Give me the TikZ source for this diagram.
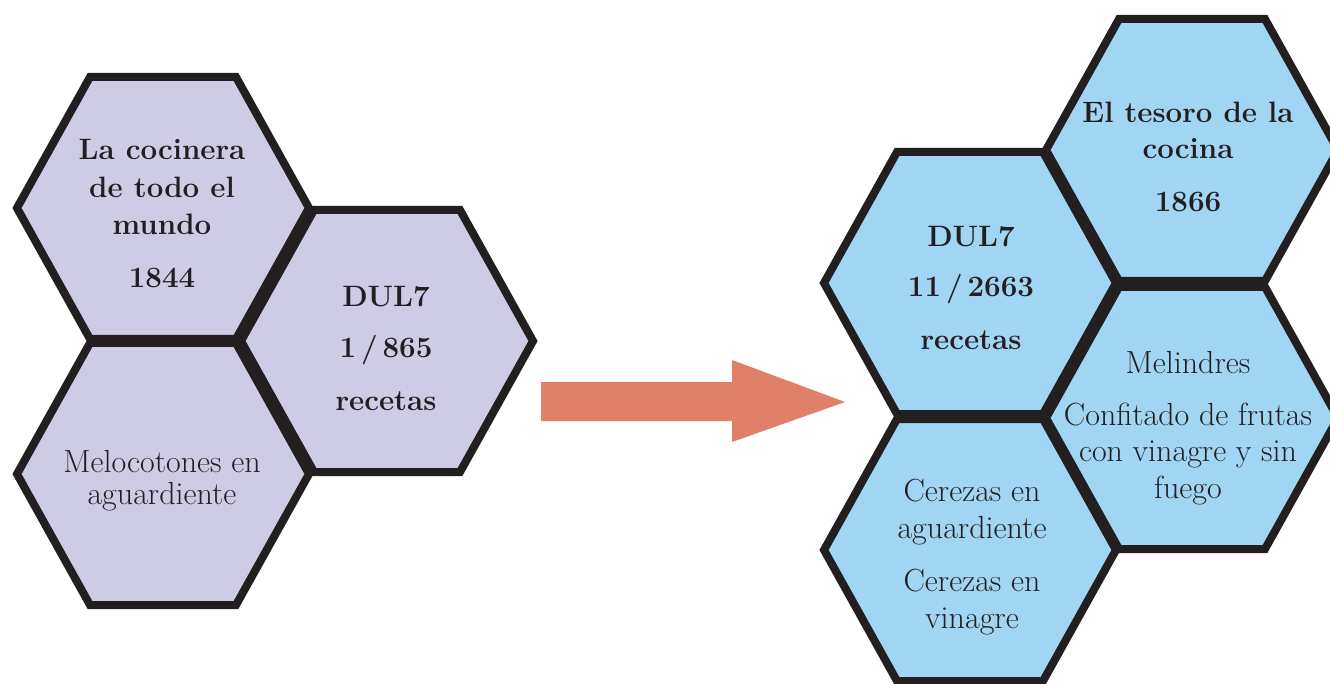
\documentclass[tikz,border=0pt]{standalone}
\usepackage{fontspec}
\definecolor{lav}{RGB}{206,204,229}
\definecolor{sky}{RGB}{160,213,243}
\definecolor{ink}{RGB}{35,31,32}
\definecolor{salmon}{RGB}{225,128,104}
% one hexagon (flat top and bottom) around a named centre
\newcommand\hexcell[2]{%
  \draw[#2, shift={(#1)}] (-146,0) -- (-73,-131) -- (73,-131) -- (146,0)
    -- (73,131) -- (-73,131) -- cycle;}
\tikzset{
  cell/.style={draw=ink, line width=8pt, line join=miter},
  lavcell/.style={cell, fill=lav},
  skycell/.style={cell, fill=sky},
  % labels are placed by the baseline of their last line
  headtext/.style={font=\bfseries\fontsize{29.5}{37.5}\selectfont, text=ink,
    align=center, inner sep=0pt, anchor=base},
  bodytext/.style={font=\fontsize{32}{36.5}\selectfont, text=ink,
    align=center, inner sep=0pt, anchor=base},
  tightbody/.style={bodytext, font=\fontsize{32}{31.5}\selectfont},
  bigarrow/.style={fill=salmon}
}
\begin{document}
\begin{tikzpicture}[x=1pt, y=-1pt]
\clip (0,0) rectangle (1330,684);
\fill[white] (0,0) rectangle (1330,684);

% left cluster
\coordinate (hA) at (163,208);
\coordinate (hB) at (387,341);
\coordinate (hC) at (163,474);
\hexcell{hA}{lavcell}
\hexcell{hB}{lavcell}
\hexcell{hC}{lavcell}

% right cluster
\coordinate (hD) at (970,283);
\coordinate (hE) at (1192,150);
\coordinate (hF) at (1192,418);
\coordinate (hG) at (970,550);
\hexcell{hD}{skycell}
\hexcell{hE}{skycell}
\hexcell{hF}{skycell}
\hexcell{hG}{skycell}

% transition arrow
\fill[bigarrow] (541,382) -- (732,382) -- (732,360) -- (845,402)
  -- (732,442) -- (732,421) -- (541,421) -- cycle;

% labels
\node[headtext] (tA) at (162,288) {La cocinera\\de todo el\\mundo\\[15.5pt]1844};
\node[headtext] (tB) at (386,410) {DUL7\\[14pt]1\,/\,865\\[15pt]recetas};
\node[tightbody] (tC) at (162,504) {Melocotones en\\aguardiente};
\node[headtext] (tD) at (971,350) {DUL7\\[13.5pt]11\,/\,2663\\[15.5pt]recetas};
\node[headtext, font=\bfseries\fontsize{29.5}{36}\selectfont] (tE) at (1188,212)
  {El tesoro de la\\cocina\\[17pt]1866};
\node[bodytext] (tF) at (1188,498)
  {Melindres\\[15pt]Confitado de frutas\\con vinagre y sin\\fuego};
\node[bodytext] (tG) at (972,628)
  {Cerezas en\\aguardiente\\[17pt]Cerezas en\\vinagre};
\end{tikzpicture}
\end{document}
